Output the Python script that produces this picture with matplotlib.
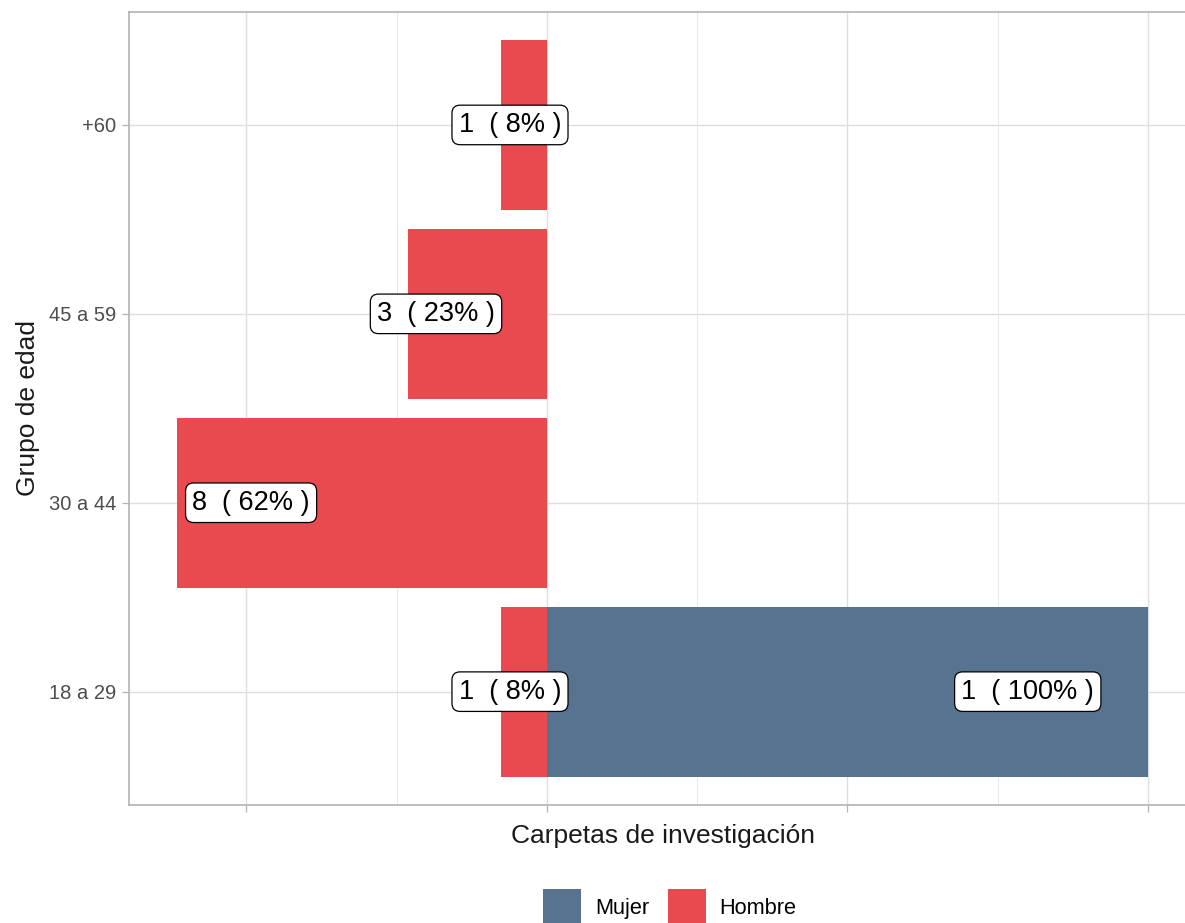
import matplotlib
matplotlib.use("Agg")
import matplotlib.pyplot as plt
from matplotlib.patches import Patch
import numpy as np

plt.rcParams['font.family'] = ['Liberation Sans', 'DejaVu Sans']

# Data
grupos = ["18 a 29", "30 a 44", "45 a 59", "+60"]
hombre_n = [1, 8, 3, 1]
mujer_n = [1, 0, 0, 0]
hombre_total = sum(hombre_n)
mujer_total = sum(mujer_n)
hombre_pct = [100 * n / hombre_total for n in hombre_n]
mujer_pct = [100 * n / mujer_total for n in mujer_n]

col_mujer = "#58738F"
col_hombre = "#E84A50"

W, H = 1185, 923
fig = plt.figure(figsize=(W / 100, H / 100), dpi=100)

# panel in pixel coordinates (right edge extends past the figure, as in the reference)
px_left, px_right, px_top, px_bottom = 128.6, 1196.5, 11.6, 805.0
ax = fig.add_axes([px_left / W, 1 - px_bottom / H,
                   (px_right - px_left) / W, (px_bottom - px_top) / H])

y = np.arange(1, len(grupos) + 1)
ax.barh(y, mujer_pct, height=0.9, color=col_mujer, zorder=2)
ax.barh(y, [-p for p in hombre_pct], height=0.9, color=col_hombre, zorder=2)

box = dict(boxstyle="round,pad=0.25,rounding_size=0.3", fc="white", ec="black", lw=0.9)
for yi, n, p in zip(y, hombre_n, hombre_pct):
    if n > 0:
        ax.text(-p * 0.8, yi, f"{n}  ( {round(p)}% )", ha="center", va="center",
                fontsize=19.5, color="black", bbox=box, zorder=4)
for yi, n, p in zip(y, mujer_n, mujer_pct):
    if n > 0:
        ax.text(p * 0.8, yi, f"{n}  ( {round(p)}% )", ha="center", va="center",
                fontsize=19.5, color="black", bbox=box, zorder=4)

lo = -max(hombre_pct)
hi = max(mujer_pct)
pad = 0.05 * (hi - lo)
ax.set_xlim(lo - pad, hi + pad)
ax.set_ylim(0.4, len(grupos) + 0.6)

ax.set_xticks([-50, 0, 50, 100])
ax.set_xticklabels(["", "", "", ""])
ax.set_xticks([-25, 25, 75], minor=True)
ax.set_yticks(y)
ax.set_yticklabels(grupos, fontsize=14.5, color="#4D4D4D")
ax.tick_params(axis="both", which="major", length=5, color="#B3B3B3", width=0.9, pad=4)
ax.tick_params(axis="x", which="minor", length=0)

ax.grid(True, which="major", color="#DEDEDE", lw=1.0, zorder=0)
ax.grid(True, which="minor", axis="x", color="#E8E8E8", lw=0.7, zorder=0)
ax.set_axisbelow(True)
for s in ax.spines.values():
    s.set_color("#B3B3B3")
    s.set_linewidth(1.2)

ax.set_xlabel("Carpetas de investigación", fontsize=19, color="#1A1A1A", labelpad=5)
ax.set_ylabel("Grupo de edad", fontsize=19, color="#1A1A1A", labelpad=6)

handles = [Patch(facecolor=col_mujer, edgecolor="none", label="Mujer"),
           Patch(facecolor=col_hombre, edgecolor="none", label="Hombre")]
fig.legend(handles=handles, loc="center", bbox_to_anchor=(670 / W, 1 - 907 / H),
           ncol=2, frameon=False, fontsize=15.7, handlelength=1.75, handleheight=2.2,
           handletextpad=0.64, columnspacing=0.83, borderaxespad=0, borderpad=0)

fig.savefig("out.png", dpi=100)
